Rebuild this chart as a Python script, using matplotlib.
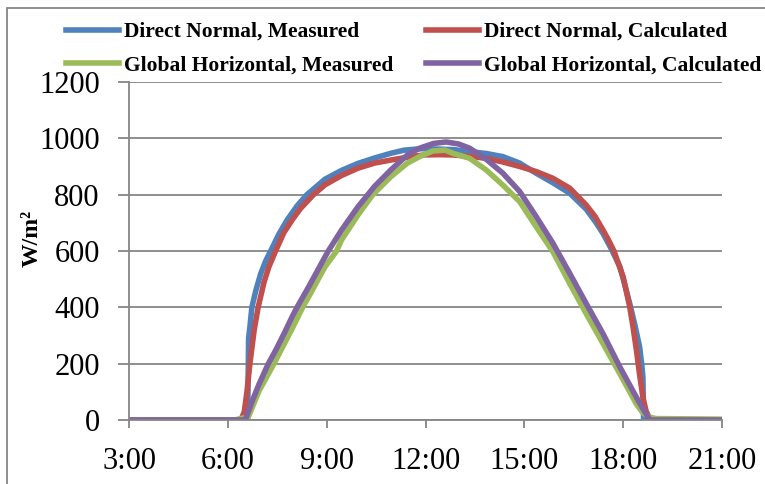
import matplotlib
matplotlib.use('Agg')
import matplotlib.pyplot as plt
from matplotlib.patches import Rectangle

# hours of the day (decimal) and irradiance values, W/m2
dn_meas_t = [3.0, 6.0, 6.6, 6.62, 6.63, 6.67, 6.73, 6.85, 7.0, 7.15, 7.3, 7.55, 7.8, 8.1, 8.4,
             8.95, 9.45, 9.95, 10.45, 10.95, 11.35, 11.85, 12.35, 12.85, 13.34, 13.85, 14.35,
             14.86, 15.36, 15.87, 16.38, 16.88, 17.15, 17.39, 17.65, 17.9, 18.05, 18.2, 18.35,
             18.5, 18.57, 18.6, 18.62, 19.0, 21.0]
dn_meas = [0, 0, 0, 180, 290, 330, 400, 460, 520, 565, 600, 660, 710, 760, 800,
           855, 886, 911, 930, 947, 958, 963, 962, 960, 953, 946, 935,
           912, 876, 842, 805, 748, 705, 662, 605, 544, 480, 413, 340,
           259, 190, 150, 0, 0, 0]

dn_calc_t = [3.0, 6.4, 6.5, 6.58, 6.67, 6.8, 6.92, 7.1, 7.25, 7.45, 7.7, 7.95, 8.2, 8.6, 8.95,
             9.45, 9.95, 10.45, 10.95, 11.45, 11.95, 12.4, 12.83, 13.34, 13.84, 14.35, 14.86,
             15.36, 15.87, 16.38, 16.88, 17.15, 17.39, 17.55, 17.72, 18.0, 18.2, 18.3, 18.4,
             18.5, 18.6, 18.7, 18.8, 18.9, 21.0]
dn_calc = [0, 0, 30, 100, 200, 320, 400, 490, 545, 600, 665, 710, 750, 800, 835,
           868, 894, 912, 923, 933, 941, 942, 941, 936, 929, 916, 900,
           882, 858, 823, 763, 722, 674, 640, 600, 508, 401, 330, 250,
           160, 80, 30, 7, 0, 0]

gh_meas_t = [3.0, 6.2, 6.5, 6.62, 6.95, 7.4, 7.95, 8.27, 8.45, 8.95, 9.3, 9.45, 9.95, 10.4,
             10.95, 11.45, 11.82, 12.22, 12.6, 12.83, 13.34, 13.84, 14.35, 14.86, 15.36, 15.87,
             16.38, 16.88, 17.39, 17.9, 18.4, 18.6, 18.81, 19.0, 21.0]
gh_meas = [0, 0, 8, 10, 104, 200, 324, 400, 437, 544, 600, 639, 728, 800,
           864, 912, 935, 955, 958, 947, 929, 888, 834, 775, 686, 597,
           484, 377, 271, 164, 57, 25, 10, 5, 3]

gh_calc_t = [3.0, 6.53, 6.75, 6.95, 7.23, 7.45, 7.7, 7.95, 8.1, 8.45, 8.95, 9.05, 9.45, 9.95,
             10.25, 10.45, 10.95, 11.45, 11.82, 12.25, 12.63, 13.0, 13.34, 13.85, 14.35, 14.86,
             15.36, 15.87, 16.38, 16.88, 17.39, 17.9, 18.4, 18.6, 18.76, 18.8, 21.0]
gh_calc = [0, 0, 70, 128, 200, 247, 305, 366, 400, 472, 579, 600, 674, 757,
           800, 829, 888, 941, 965, 982, 987, 980, 965, 925, 876, 811,
           722, 627, 520, 413, 306, 188, 81, 40, 10, 0, 0]

hour_ticks = [3, 6, 9, 12, 15, 18, 21]
hour_labels = ['3:00', '6:00', '9:00', '12:00', '15:00', '18:00', '21:00']
y_ticks = [0, 200, 400, 600, 800, 1000, 1200]

grey = '#868686'
plt.rcParams['font.family'] = 'Liberation Serif'

fig = plt.figure(figsize=(7.65, 4.84), dpi=100)
ax = fig.add_axes([129 / 765, 1 - 420 / 484, (722 - 129) / 765, (420 - 82) / 484])

lw = 4
l1, = ax.plot(dn_meas_t, dn_meas, color='#4F81BD', lw=lw, solid_joinstyle='round',
              label='Direct Normal, Measured')
l2, = ax.plot(dn_calc_t, dn_calc, color='#C0504D', lw=lw, solid_joinstyle='round',
              label='Direct Normal, Calculated')
l3, = ax.plot(gh_meas_t, gh_meas, color='#9BBB59', lw=lw, solid_joinstyle='round',
              label='Global Horizontal, Measured')
l4, = ax.plot(gh_calc_t, gh_calc, color='#8064A2', lw=lw, solid_joinstyle='round',
              label='Global Horizontal, Calculated')

ax.set_xlim(3, 21)
ax.set_ylim(0, 1200)
ax.set_xticks(hour_ticks)
ax.set_xticklabels(hour_labels)
ax.set_yticks(y_ticks)
ax.yaxis.grid(True, color=grey, lw=1.3)
ax.set_axisbelow(True)
for s in ['top', 'right']:
    ax.spines[s].set_visible(False)
for s in ['left', 'bottom']:
    ax.spines[s].set_color(grey)
    ax.spines[s].set_linewidth(1.3)
ax.tick_params(axis='y', length=8, width=1.3, color=grey, labelsize=22, pad=13)
ax.tick_params(axis='x', length=6, width=1.3, color=grey, labelsize=22, pad=13.5)

fig.text(32 / 765, 1 - 238 / 484, 'W/m²', rotation=90, ha='center', va='center',
         fontsize=17, fontweight='bold')

handles = [l1, l3, l2, l4]
fig.legend(handles, [h.get_label() for h in handles], ncol=2,
           loc='upper left', bbox_to_anchor=(66 / 765, 1 - 22 / 484), frameon=False,
           prop={'family': 'Liberation Serif', 'weight': 'bold', 'size': 15.5},
           handlelength=2.47, handletextpad=0.23, columnspacing=1.5, labelspacing=0.62,
           borderpad=0, borderaxespad=0)

# outer chart frame
fig.add_artist(Rectangle((7 / 765, -0.1), 1.2, 1 - 8 / 484 + 0.1, transform=fig.transFigure,
                         fill=False, ec=grey, lw=1.3))

fig.savefig('out.png', dpi=100)
